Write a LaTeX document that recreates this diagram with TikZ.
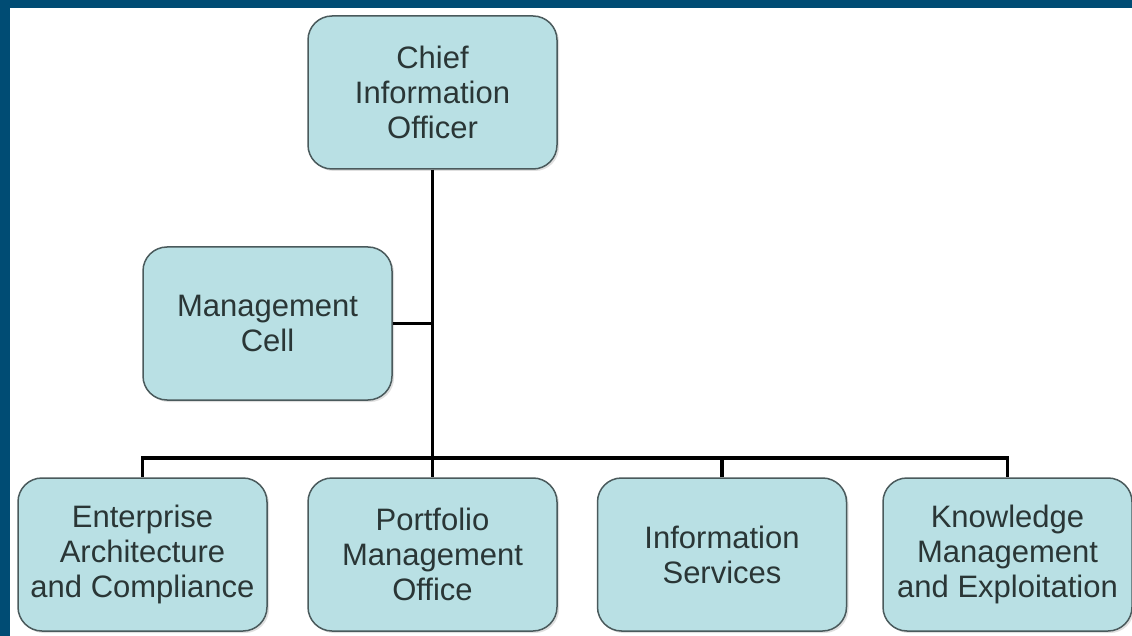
\documentclass[tikz,border=0pt]{standalone}
\usepackage{fontspec}
\setmainfont{Liberation Sans}
\usetikzlibrary{shadows}
\definecolor{frameblue}{HTML}{004C74}
\definecolor{boxfill}{HTML}{B9E0E4}
\definecolor{boxline}{HTML}{4A5A5C}
\definecolor{txt}{HTML}{2A3636}
\tikzset{
  unit/.style={draw=boxline, line width=1.5pt, fill=boxfill, rounded corners=24pt,
    minimum width=249pt, minimum height=153pt, align=center, text=txt,
    font=\fontsize{31}{35}\selectfont, inner sep=0pt,
    drop shadow={shadow xshift=2pt, shadow yshift=-2pt, opacity=0.25}},
  link/.style={line width=3.8pt, black}
}
\begin{document}
\begin{tikzpicture}[x=1pt, y=-1pt]
\useasboundingbox (0,0) rectangle (1132,636);
\fill[frameblue] (0,0) rectangle (1132,636);
\fill[white] (10,8) rectangle (1132,636);
\node[unit] (cio) at (432.5,92.5) {Chief\\Information\\Officer};
\node[unit] (mgmt) at (267.5,323.5) {Management\\Cell};
\node[unit] (ea) at (142.5,554.5) {Enterprise\\Architecture\\and Compliance};
\node[unit] (pmo) at (432.5,554.5) {Portfolio\\Management\\Office};
\node[unit] (is) at (722,554.5) {Information\\Services};
\node[unit] (km) at (1007.5,554.5) {Knowledge\\Management\\and Exploitation};
\coordinate (bus) at (432.5,458);
\draw[link] (cio.south) -- (pmo.north);
\draw[link] (mgmt.east) -- (mgmt.east -| cio.south);
\draw[link] (ea.north) |- (bus) -| (km.north);
\draw[link] (is.north) -- (is.north |- bus);
\end{tikzpicture}
\end{document}
